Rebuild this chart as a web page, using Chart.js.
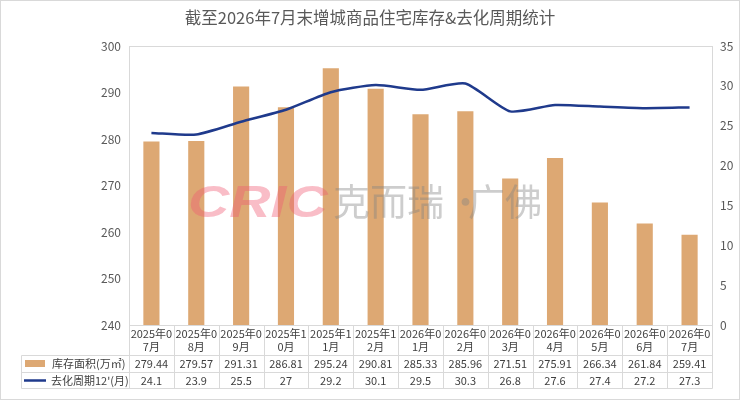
<!DOCTYPE html>
<html>
<head>
<meta charset="utf-8">
<script src="https://cdn.jsdelivr.net/npm/chart.js@4.4.0/dist/chart.umd.min.js"></script>
<style>
  html, body { margin: 0; padding: 0; background: #fff; }
  #wrap { width: 740px; height: 403px; }
</style>
</head>
<body>
<div id="wrap"><canvas id="myChart" width="740" height="403"></canvas></div>
<script>
    // Data
    var categories = ['2025年07月', '2025年08月', '2025年09月', '2025年10月', '2025年11月', '2025年12月',
                      '2026年01月', '2026年02月', '2026年03月', '2026年04月', '2026年05月', '2026年06月', '2026年07月'];
    var stockArea = [279.44, 279.57, 291.31, 286.81, 295.24, 290.81, 285.33, 285.96, 271.51, 275.91, 266.34, 261.84, 259.41];
    var cycleMonths = [24.1, 23.9, 25.5, 27, 29.2, 30.1, 29.5, 30.3, 26.8, 27.6, 27.4, 27.2, 27.3];
    var leftTicks = [240, 300, 10];
    var rightTicks = [0, 35, 5];

    var FONT = '"Noto Sans CJK SC", "Microsoft YaHei", sans-serif';
    var barColor = '#DDA873';
    var lineColor = '#1F3A8C';
    var gridGray = '#D9D9D9';
    var textGray = '#595959';

    // Title, watermark, plot border and data table
    var tablePlugin = {
        id: 'tablePlugin',
        beforeDatasetsDraw: function (chart) {
            var c = chart.ctx;
            var a = chart.chartArea;
            c.save();
            // outer frame
            c.strokeStyle = gridGray;
            c.lineWidth = 1;
            c.strokeRect(0.5, 0.5, 739, 399);
            // title
            c.fillStyle = textGray;
            c.font = '16.5px ' + FONT;
            c.textAlign = 'center';
            c.textBaseline = 'middle';
            c.fillText('截至2026年7月末增城商品住宅库存&去化周期统计', 370, 18);
            // plot border
            c.strokeStyle = gridGray;
            c.strokeRect(a.left + 0.5, a.top + 0.5, a.right - a.left, a.bottom - a.top);
            c.restore();
        },
        afterDatasetsDraw: function (chart) {
            var c = chart.ctx;
            var a = chart.chartArea;
            var x = chart.scales.x;
            var n = categories.length;
            var step = (a.right - a.left) / n;
            var row1 = a.bottom, row2 = 355.5, row3 = 372.5, row4 = 388.5;
            var legendLeft = 21.5;

            c.save();
            // watermark
            c.textBaseline = 'alphabetic';
            c.textAlign = 'left';
            c.save();
            c.translate(188, 217);
            c.scale(1.3, 1);
            c.font = 'italic bold 44px "Liberation Sans", sans-serif';
            c.fillStyle = 'rgba(240, 90, 115, 0.4)';
            c.fillText('CRIC', 0, 0);
            c.restore();
            c.font = '37px ' + FONT;
            c.fillStyle = 'rgba(130, 130, 130, 0.4)';
            c.fillText('克而瑞', 333, 216);
            c.fillText('·', 447, 216);
            c.fillText('广佛', 468, 216);

            // table grid
            c.strokeStyle = gridGray;
            c.lineWidth = 1;
            c.beginPath();
            for (var i = 0; i <= n; i++) {
                var bx = Math.round(a.left + i * step) + 0.5;
                c.moveTo(bx, row1);
                c.lineTo(bx, row4);
            }
            c.moveTo(legendLeft, row2); c.lineTo(a.right + 0.5, row2);
            c.moveTo(legendLeft, row3); c.lineTo(a.right + 0.5, row3);
            c.moveTo(legendLeft, row4); c.lineTo(a.right + 0.5, row4);
            c.moveTo(legendLeft, row2); c.lineTo(legendLeft, row4);
            c.stroke();

            // category labels and values
            c.fillStyle = '#404040';
            c.font = '11px ' + FONT;
            c.textAlign = 'center';
            c.textBaseline = 'middle';
            for (var j = 0; j < n; j++) {
                var cx = x.getPixelForValue(j);
                var lab = categories[j];
                c.fillText(lab.slice(0, 6), cx, 333.5);
                c.fillText(lab.slice(6), cx, 347);
                c.fillText(stockArea[j].toFixed(2), cx, 364);
                c.fillText(String(cycleMonths[j]), cx, 381);
            }

            // legend keys
            c.fillStyle = barColor;
            c.fillRect(25, 360, 20, 7);
            c.strokeStyle = lineColor;
            c.lineWidth = 2.5;
            c.beginPath();
            c.moveTo(24, 380.5); c.lineTo(46, 380.5);
            c.stroke();
            c.fillStyle = '#404040';
            c.textAlign = 'left';
            c.fillText('库存面积(万㎡)', 52, 364);
            c.fillText('去化周期12\'(月)', 51, 381);
            c.restore();
        }
    };

    const ctx = document.getElementById('myChart');
    new Chart(ctx, {
        data: {
            labels: categories,
            datasets: [{
                type: 'line',
                label: '去化周期12\'(月)',
                data: cycleMonths,
                yAxisID: 'y1',
                borderColor: lineColor,
                borderWidth: 2.5,
                pointRadius: 0,
                tension: 0.2,
                fill: false,
                order: 0
            }, {
                type: 'bar',
                label: '库存面积(万㎡)',
                data: stockArea,
                yAxisID: 'y',
                backgroundColor: barColor,
                barPercentage: 0.72,
                categoryPercentage: 0.5,
                order: 1
            }]
        },
        plugins: [tablePlugin],
        options: {
            responsive: false,
            animation: false,
            layout: { padding: { left: 0, right: 0, top: 46, bottom: 78 } },
            plugins: {
                legend: { display: false },
                title: { display: false },
                tooltip: { enabled: false }
            },
            scales: {
                x: {
                    display: false,
                    offset: true
                },
                y: {
                    position: 'left',
                    min: leftTicks[0],
                    max: leftTicks[1],
                    ticks: {
                        stepSize: leftTicks[2],
                        color: textGray,
                        font: { family: FONT, size: 12 },
                        padding: 0
                    },
                    grid: { display: false },
                    border: { display: false },
                    afterFit: function (scale) { scale.width = 129; }
                },
                y1: {
                    position: 'right',
                    min: rightTicks[0],
                    max: rightTicks[1],
                    ticks: {
                        stepSize: rightTicks[2],
                        color: textGray,
                        font: { family: FONT, size: 12 },
                        padding: 0
                    },
                    grid: { display: false },
                    border: { display: false },
                    afterFit: function (scale) { scale.width = 28; }
                }
            }
        }
    });
</script>
</body>
</html>
